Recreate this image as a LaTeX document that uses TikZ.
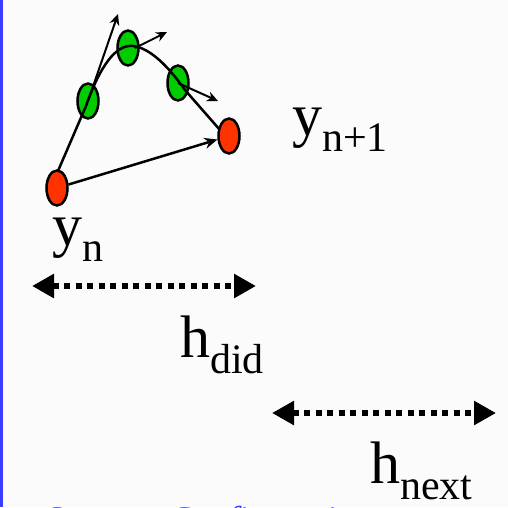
\documentclass[tikz,border=0pt]{standalone}
\usepackage{fontspec}
\setmainfont{Liberation Serif}
\usetikzlibrary{shapes.geometric,arrows.meta}
\definecolor{redpt}{RGB}{255,51,0}
\definecolor{greenpt}{RGB}{0,204,0}
\definecolor{edgeblue}{RGB}{60,60,255}
\definecolor{bg}{RGB}{251,251,251}
\tikzset{
  redpt/.style={ellipse, draw=black, line width=2.5pt, fill=redpt, minimum width=21pt, minimum height=35pt, inner sep=0pt},
  greenpt/.style={ellipse, draw=black, line width=2.5pt, fill=greenpt, minimum width=21pt, minimum height=35pt, inner sep=0pt},
  curveline/.style={draw=black, line width=2.5pt},
  tangent/.style={draw=black, line width=2pt, -{Stealth[length=11pt,width=10pt]}},
  stepline/.style={draw=black, line width=2.5pt, -{Stealth[length=13pt,width=11pt]}},
  dotarrow/.style={draw=black, line width=6pt, dash pattern=on 6pt off 5.5pt, {Triangle[length=22pt,width=23pt]}-{Triangle[length=22pt,width=23pt]}},
  lbl/.style={anchor=base west, inner sep=0pt, outer sep=0pt},
}
\newcommand{\mainlbl}[2]{{\fontsize{60}{60}\selectfont #1\raisebox{-16pt}{\fontsize{42}{42}\selectfont #2}}}
\begin{document}
\begin{tikzpicture}[x=1pt,y=-1pt]
\useasboundingbox (0,0) rectangle (508,507);
\fill[bg] (0,0) rectangle (508,507);
\fill[edgeblue] (0,0) rectangle (3,507);
% points
\node[greenpt] (g1) at (88,101) {};
\node[greenpt] (g2) at (128,48) {};
\node[greenpt] (g3) at (178,83) {};
% curve
\draw[curveline] (58,171) -- (86,106) .. controls (100,66) and (116,44) .. (133,46) .. controls (150,48) and (168,66) .. (185,90) -- (220,130);
\node[redpt] (r1) at (57,188) {};
\node[redpt] (r2) at (229,136) {};
% tangents
\coordinate (t1) at (118,14);
\coordinate (t2) at (167,32);
\coordinate (t3) at (218,101);
\draw[tangent] (g1.center) -- (t1);
\draw[tangent] ([xshift=7pt]g2.center) -- (t2);
\draw[tangent] (g3.center) -- (t3);
\draw[stepline] (r1) -- (r2);
% labels
\node[lbl] (lyn) at (52,245) {\mainlbl{y}{n}};
\node[lbl] (lyn1) at (292,135) {\mainlbl{y}{n+1}};
\node[lbl] (lhdid) at (180,357) {\mainlbl{h}{did}};
\node[lbl] (lhnext) at (370,483) {\mainlbl{h}{next}};
% dotted arrows
\coordinate (d1a) at (32,286);
\coordinate (d1b) at (256,286);
\coordinate (d2a) at (272,413);
\coordinate (d2b) at (496,413);
\draw[dotarrow] (d1a) -- (d1b);
\draw[dotarrow] (d2a) -- (d2b);
% cut-off source text
\node[lbl, text=edgeblue] (src) at (45,531) {\fontsize{36}{36}\selectfont\itshape Source: Configuration};
\end{tikzpicture}
\end{document}
